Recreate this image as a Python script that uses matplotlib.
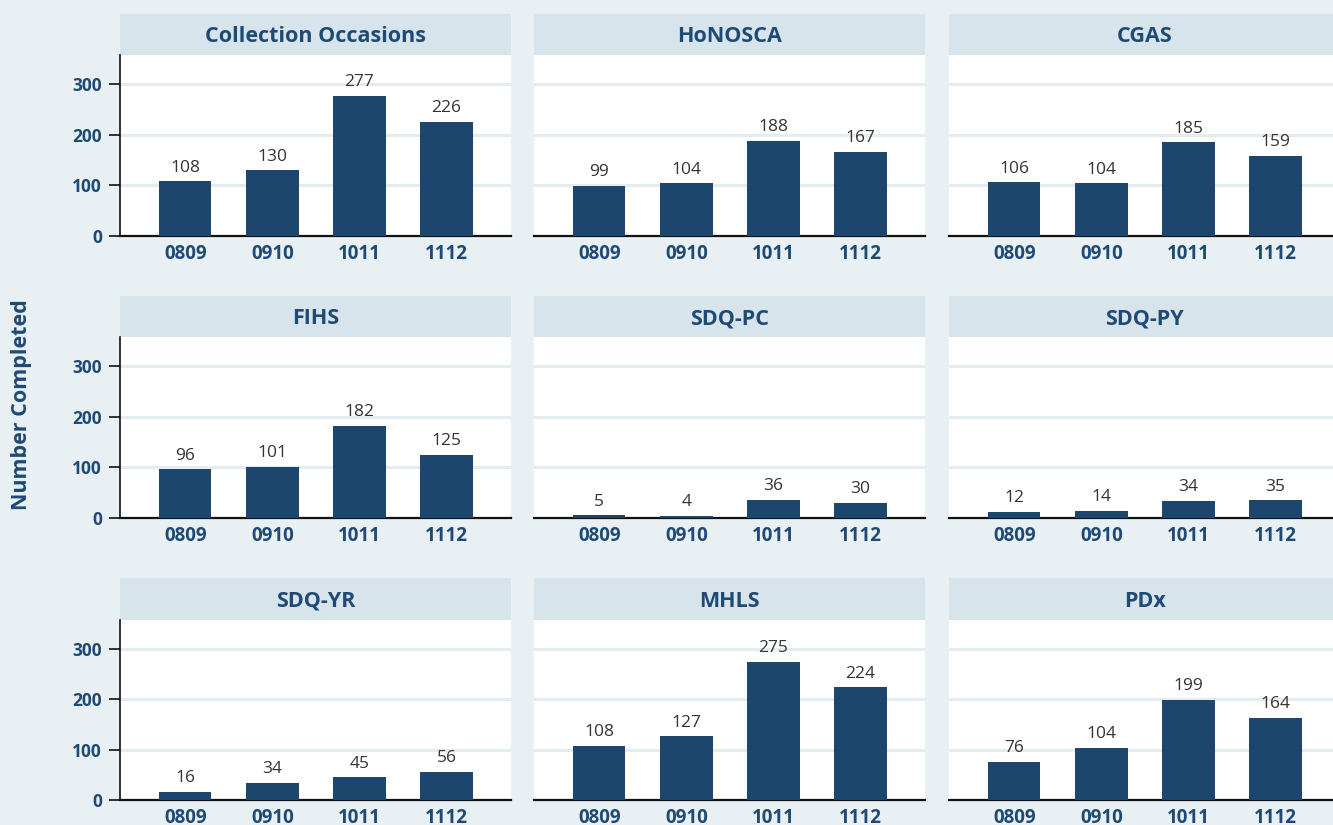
import matplotlib
matplotlib.use("Agg")
import matplotlib.pyplot as plt

# data
years = ["0809", "0910", "1011", "1112"]
titles = ["Collection Occasions", "HoNOSCA", "CGAS",
          "FIHS", "SDQ-PC", "SDQ-PY",
          "SDQ-YR", "MHLS", "PDx"]
collection = [108, 130, 277, 226]
honosca = [99, 104, 188, 167]
cgas = [106, 104, 185, 159]
fihs = [96, 101, 182, 125]
sdq_pc = [5, 4, 36, 30]
sdq_py = [12, 14, 34, 35]
sdq_yr = [16, 34, 45, 56]
mhls = [108, 127, 275, 224]
pdx = [76, 104, 199, 164]
series = [collection, honosca, cgas, fihs, sdq_pc, sdq_py, sdq_yr, mhls, pdx]

BG = "#e8f0f3"
STRIP = "#d7e4eb"
BAR = "#1c466e"
TXT = "#1e4a75"
GRID = "#e3ecf0"

plt.rcParams['font.family'] = ['Open Sans', 'DejaVu Sans']

W, H = 1333, 825
fig = plt.figure(figsize=(W / 100, H / 100), dpi=100, facecolor=BG)

col_left = [120, 534, 949]
col_w = 391
row_strip_top = [14, 296, 578]
row_top = [55, 337, 620]
row_bottom = [236, 518, 800]

for i, (title, vals) in enumerate(zip(titles, series)):
    r, c = divmod(i, 3)
    x0 = col_left[c] / W
    w = col_w / W
    # strip header
    sax = fig.add_axes([x0, 1 - row_top[r] / H, w, (row_top[r] - row_strip_top[r]) / H])
    sax.set_facecolor(STRIP)
    sax.set_xticks([])
    sax.set_yticks([])
    for s in sax.spines.values():
        s.set_visible(False)
    sax.text(0.5, 0.45, title, ha="center", va="center", fontsize=15.5,
             fontweight="bold", color=TXT, transform=sax.transAxes)

    ax = fig.add_axes([x0, 1 - row_bottom[r] / H, w, (row_bottom[r] - row_top[r]) / H])
    ax.set_facecolor("white")
    bars = ax.bar(range(len(years)), vals, width=0.6, color=BAR, zorder=3)
    ax.bar_label(bars, padding=4, fontsize=12.5, color="#333333")
    ax.set_xlim(-0.75, 3.74)
    ax.set_ylim(0, 358)
    ax.set_yticks([0, 100, 200, 300])
    ax.grid(axis="y", color=GRID, linewidth=2.2, zorder=0)
    ax.set_xticks(range(len(years)))
    ax.set_xticklabels(years, fontsize=13.5, fontweight="bold", color=TXT)
    ax.tick_params(axis="x", length=0, pad=6)
    for s in ["top", "right"]:
        ax.spines[s].set_visible(False)
    ax.spines["bottom"].set_linewidth(1.6)
    ax.spines["bottom"].set_color("#111111")
    if c == 0:
        ax.spines["left"].set_linewidth(1.2)
        ax.spines["left"].set_color("#111111")
        ax.tick_params(axis="y", length=8, width=1.2, color="#111111", pad=5,
                       labelsize=12.5, labelcolor=TXT)
        for lab in ax.get_yticklabels():
            lab.set_fontweight("bold")
    else:
        ax.spines["left"].set_visible(False)
        ax.tick_params(axis="y", length=0, labelleft=False)

fig.text(22 / W, 1 - 405 / H, "Number Completed", rotation=90, ha="center",
         va="center", fontsize=15.5, fontweight="bold", color=TXT)

fig.savefig("out.png", dpi=100, facecolor=BG)
